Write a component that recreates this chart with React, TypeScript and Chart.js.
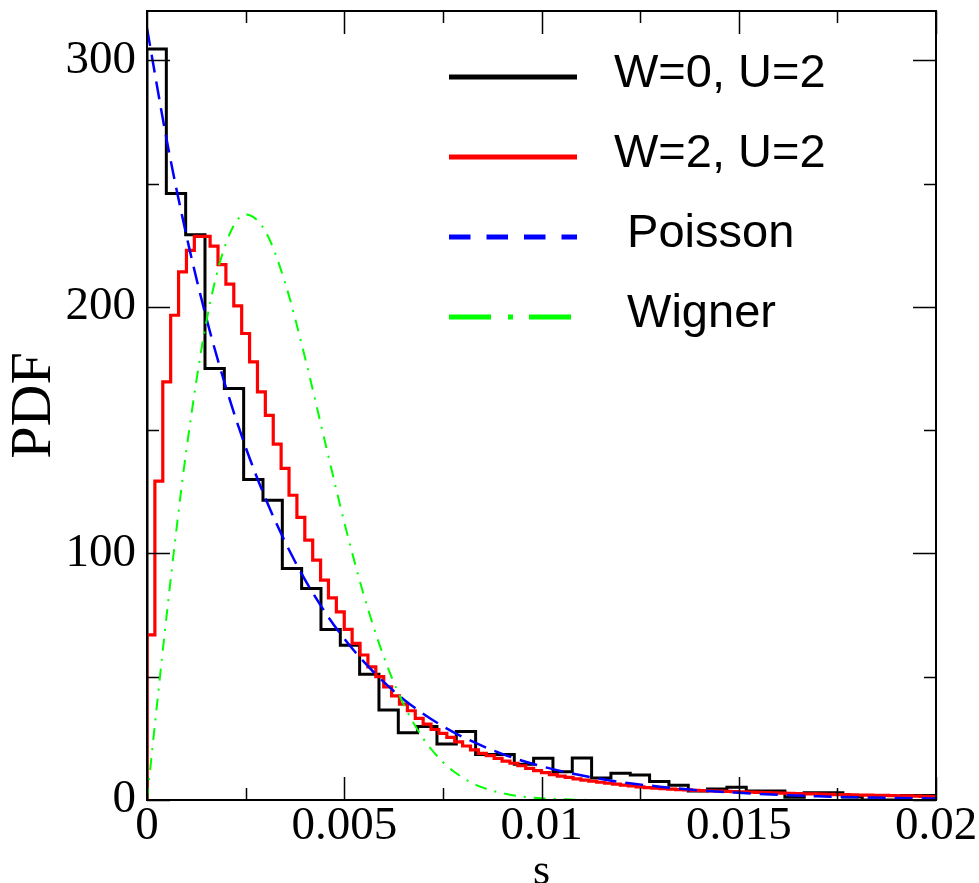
import React, { useEffect, useRef } from 'react';
import { Chart, registerables } from 'chart.js';

Chart.register(...registerables);

// ---- data ----
const blackBinWidth = 0.00049;
const blackValues = [
  304.6, 246, 229.3, 175, 166.9, 130, 121.6, 93.9, 85.8, 69.2,
  62.8, 51, 36.5, 27.3, 29.8, 22.7, 27.8, 18.5, 18.5, 14.5,
  16.9, 11.5, 17, 8.9, 10.8, 10.1, 7.5, 6, 3.6, 4.5,
  5.2, 3.6, 3.6, 1.1, 2.9, 2.9, 1.2, 0, 0, 1.8, 1.8,
];

const redBinWidth = 0.0002;
const redValues = [
  67, 129.3, 169.6, 196.6, 214.2, 222.9, 228.6, 228.6, 224.6, 217.1,
  209.2, 200.4, 189.2, 177.7, 165.5, 156, 144.3, 134.5, 123.6, 114.6,
  105.4, 97.3, 89.2, 82, 76.3, 69.2, 63.5, 58.8, 54, 50,
  45.9, 42.2, 38.9, 36.2, 33.1, 30.8, 28.6, 27, 25.4, 23.6,
  21.9, 20.3, 18.9, 18, 16.9, 15.8, 14.9, 13.9, 12.8, 11.9,
  11.1, 10.3, 9.7, 9.2, 8.6, 8.1, 7.6, 7.2, 6.8, 6.4,
  6, 5.7, 5.3, 5.0, 4.8, 4.6, 4.4, 4.2, 4.1, 3.9,
  3.8, 3.7, 3.6, 3.5, 3.4, 3.3, 3.2, 3.1, 3.0, 2.9,
  2.8, 2.7, 2.6, 2.5, 2.5, 2.4, 2.3, 2.2, 2.2, 2.1,
  2.0, 2.0, 1.9, 1.9, 1.8, 1.7, 1.7, 1.6, 1.5, 1.4,
];

const poissonS = [
  0, 0.0005, 0.001, 0.0015, 0.002, 0.0025, 0.003, 0.0035, 0.004, 0.0045,
  0.005, 0.0055, 0.006, 0.0065, 0.007, 0.0075, 0.008, 0.009, 0.01, 0.011,
  0.012, 0.013, 0.014, 0.015, 0.016, 0.017, 0.018, 0.019, 0.02,
];
const poissonValues = [
  313, 267.7, 228.9, 195.7, 167.4, 143.1, 122.4, 104.7, 89.5, 76.5,
  65.4, 56, 47.9, 40.9, 35, 29.9, 25.6, 18.7, 13.7, 10,
  7.3, 5.4, 3.9, 2.9, 2.1, 1.5, 1.1, 0.8, 0.6,
];

const wignerS = [
  0, 0.00025, 0.0005, 0.00075, 0.001, 0.0015, 0.002, 0.0025, 0.003, 0.0035,
  0.004, 0.0045, 0.005, 0.0055, 0.006, 0.0065, 0.007, 0.0075, 0.008, 0.0085,
  0.009, 0.0095, 0.01, 0.011, 0.012, 0.014, 0.016, 0.018, 0.02,
];
const wignerValues = [
  0, 38.2, 75.2, 110.2, 142.1, 193.6, 225.7, 237.5, 230.7, 209.8,
  179.8, 146.1, 112.7, 82.9, 58.2, 39, 25, 15.4, 9.1, 5.1,
  2.8, 1.4, 0.7, 0.1, 0, 0, 0, 0, 0,
];

const seriesLabels = ['W=0, U=2', 'W=2, U=2', ' Poisson', ' Wigner'];
const seriesColors = ['#000000', '#ff0000', '#0000ff', '#00ff00'];

const xTickValues = [0, 0.005, 0.01, 0.015, 0.02];
const xTickLabels = ['0', '0.005', '0.01', '0.015', '0.02'];
const yTickValues = [0, 100, 200, 300];
const yTickLabels = ['0', '100', '200', '300'];

const xTitle = 's';
const yTitle = 'PDF';

// ---- helpers ----
function histPoints(values: number[], width: number) {
  const pts: { x: number; y: number }[] = [{ x: 0, y: 0 }];
  values.forEach((v, i) => pts.push({ x: i * width, y: v }));
  pts.push({ x: values.length * width, y: values[values.length - 1] });
  return pts;
}
function curvePoints(xs: number[], ys: number[]) {
  return xs.map((x, i) => ({ x, y: ys[i] }));
}
function labelFor(value: number, vals: number[], labels: string[]) {
  for (let i = 0; i < vals.length; i++) {
    if (Math.abs(value - vals[i]) < 1e-9 * Math.max(1, Math.abs(vals[i]) * 1e3)) return labels[i];
  }
  return '';
}

const frameTicksPlugin = {
  id: 'frameTicks',
  afterDatasetsDraw(chart: any) {
    const { ctx, chartArea: a, scales } = chart;
    const xs = scales.x;
    const ys = scales.y;
    ctx.save();
    ctx.strokeStyle = '#000';
    ctx.lineWidth = 1.5;
    ctx.beginPath();
    xs.ticks.forEach((t: any) => {
      const px = Math.round(xs.getPixelForValue(t.value)) + 0.5;
      const major = labelFor(t.value, xTickValues, xTickLabels) !== '';
      const len = major ? 23 : 12;
      ctx.moveTo(px, a.bottom);
      ctx.lineTo(px, a.bottom - len);
      ctx.moveTo(px, a.top);
      ctx.lineTo(px, a.top + len);
    });
    ys.ticks.forEach((t: any) => {
      const py = Math.round(ys.getPixelForValue(t.value)) + 0.5;
      const major = labelFor(t.value, yTickValues, yTickLabels) !== '';
      const len = major ? 23 : 12;
      ctx.moveTo(a.left, py);
      ctx.lineTo(a.left + len, py);
      ctx.moveTo(a.right, py);
      ctx.lineTo(a.right - len, py);
    });
    ctx.stroke();
    ctx.lineWidth = 2;
    ctx.strokeRect(a.left, a.top, a.right - a.left, a.bottom - a.top);
    ctx.restore();
  },
};

const legendPlugin = {
  id: 'customLegend',
  afterDraw(chart: any) {
    const { ctx } = chart;
    const x1 = 449;
    const x2 = 577;
    const y0 = 77;
    const dy = 80;
    const textX = 614;
    ctx.save();
    chart.data.datasets.forEach((ds: any, i: number) => {
      const y = y0 + i * dy;
      ctx.beginPath();
      ctx.strokeStyle = ds.borderColor;
      ctx.lineWidth = 5;
      ctx.lineCap = 'butt';
      ctx.setLineDash(ds.legendDash || []);
      ctx.moveTo(x1, y);
      ctx.lineTo(x2, y);
      ctx.stroke();
      ctx.setLineDash([]);
      ctx.fillStyle = '#000';
      ctx.font = '47px "Liberation Sans", Arial, sans-serif';
      ctx.textAlign = 'left';
      ctx.textBaseline = 'alphabetic';
      ctx.fillText(ds.label, textX, y + 9.5);
    });
    ctx.restore();
  },
};

export default function App() {
  const ref = useRef<HTMLCanvasElement>(null);

  useEffect(() => {
    const canvas = ref.current;
    if (!canvas) return;
    const chart = new Chart(canvas, {
      type: 'line',
      data: {
        datasets: [
          {
            label: seriesLabels[0],
            data: histPoints(blackValues, blackBinWidth),
            borderColor: seriesColors[0],
            borderWidth: 3,
            stepped: 'before',
            pointRadius: 0,
            fill: false,
            order: 4,
            legendDash: [],
          } as any,
          {
            label: seriesLabels[1],
            data: histPoints(redValues, redBinWidth),
            borderColor: seriesColors[1],
            borderWidth: 3.2,
            stepped: 'before',
            pointRadius: 0,
            fill: false,
            order: 3,
            legendDash: [],
          } as any,
          {
            label: seriesLabels[2],
            data: curvePoints(poissonS, poissonValues),
            borderColor: seriesColors[2],
            borderWidth: 2.5,
            borderDash: [18, 9],
            cubicInterpolationMode: 'monotone',
            pointRadius: 0,
            fill: false,
            order: 2,
            legendDash: [21.5, 16],
          } as any,
          {
            label: seriesLabels[3],
            data: curvePoints(wignerS, wignerValues),
            borderColor: seriesColors[3],
            borderWidth: 2,
            borderDash: [12, 8, 2, 8],
            cubicInterpolationMode: 'monotone',
            pointRadius: 0,
            fill: false,
            order: 1,
            legendDash: [42, 17, 5, 16],
          } as any,
        ],
      },
      options: {
        animation: false,
        responsive: false,
        maintainAspectRatio: false,
        devicePixelRatio: 1,
        layout: { padding: { top: 11, right: 43, left: 0, bottom: 0 } },
        plugins: {
          legend: { display: false },
          tooltip: { enabled: false },
          title: { display: false },
        },
        scales: {
          x: {
            type: 'linear',
            min: 0,
            max: 0.02,
            grid: { display: false, drawTicks: false },
            border: { display: false },
            ticks: {
              stepSize: 0.0025,
              autoSkip: false,
              maxRotation: 0,
              minRotation: 0,
              includeBounds: false,
              padding: 3,
              color: '#000',
              font: { family: '"Liberation Serif", "Times New Roman", serif', size: 47, lineHeight: 1 },
              callback: (v: any) => labelFor(Number(v), xTickValues, xTickLabels),
            },
            title: {
              display: true,
              text: xTitle,
              color: '#000',
              font: { family: '"Liberation Serif", "Times New Roman", serif', size: 44, lineHeight: 1 },
              padding: { top: 0, bottom: -11 },
            },
            afterFit: (s: any) => {
              s.height = 83;
              s.paddingLeft = 0;
              s.paddingRight = 0;
            },
          },
          y: {
            type: 'linear',
            min: 0,
            max: 320,
            grid: { display: false, drawTicks: false },
            border: { display: false },
            ticks: {
              stepSize: 50,
              autoSkip: false,
              includeBounds: false,
              padding: 11,
              color: '#000',
              font: { family: '"Liberation Serif", "Times New Roman", serif', size: 47, lineHeight: 1 },
              callback: (v: any) => labelFor(Number(v), yTickValues, yTickLabels),
            },
            title: {
              display: true,
              text: yTitle,
              color: '#000',
              font: { family: '"Liberation Serif", "Times New Roman", serif', size: 58, lineHeight: 1 },
              padding: { top: 5.5, bottom: 0 },
            },
            afterFit: (s: any) => {
              s.width = 147;
              s.paddingTop = 0;
              s.paddingBottom = 0;
            },
          },
        },
      } as any,
      plugins: [frameTicksPlugin, legendPlugin],
    });
    return () => chart.destroy();
  }, []);

  return (
    <div style={{ position: 'absolute', left: 0, top: 0, width: 979, height: 883, background: '#ffffff' }}>
      <canvas ref={ref} width={979} height={883} style={{ display: 'block', width: 979, height: 883 }} />
    </div>
  );
}
